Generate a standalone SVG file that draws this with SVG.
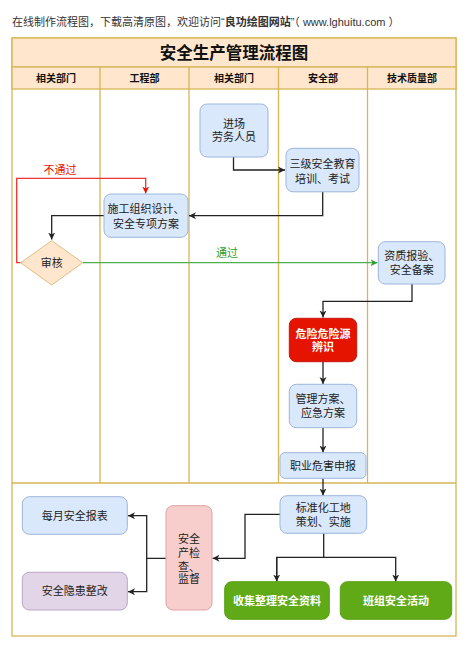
<svg xmlns="http://www.w3.org/2000/svg" width="468" height="649" viewBox="0 0 468 649">
<style>
text{font-family:"Liberation Sans","Noto Sans CJK SC",sans-serif;font-size:11px;fill:#222;text-anchor:middle}
.lane{fill:none;stroke:#d6b656;stroke-width:1.3}
.hdr{fill:#ffe6cc;stroke:#d6b656;stroke-width:1.3}
.hd{font-weight:bold;font-size:10px;fill:#111}
.blue{fill:#dae8fc;stroke:#9db5da;stroke-width:1}
.c{fill:none;stroke:#222;stroke-width:1.3}
.w{fill:#fff;font-weight:bold}
</style>
<defs>
<marker id="a" viewBox="0 0 8 8" refX="7" refY="4" markerWidth="8" markerHeight="8" markerUnits="userSpaceOnUse" orient="auto"><path d="M0,0.5 L7,4 L0,7.5 L2,4 Z" fill="#222"/></marker>
<marker id="ar" viewBox="0 0 8 8" refX="7" refY="4" markerWidth="8" markerHeight="8" markerUnits="userSpaceOnUse" orient="auto"><path d="M0,0.5 L7,4 L0,7.5 L2,4 Z" fill="#e51400"/></marker>
<marker id="ag" viewBox="0 0 8 8" refX="7" refY="4" markerWidth="8" markerHeight="8" markerUnits="userSpaceOnUse" orient="auto"><path d="M0,0.5 L7,4 L0,7.5 L2,4 Z" fill="#2e9e2e"/></marker>
</defs>
<rect width="468" height="649" fill="#fff"/>
<text x="12" y="26" style="text-anchor:start;font-size:11px;fill:#333">在线制作流程图，下载高清原图，欢迎访问“<tspan font-weight="bold">良功绘图网站</tspan>”（ www.lghuitu.com ）</text>

<g id="frame">
<rect class="lane" x="12" y="38" width="444" height="598"/>
<rect class="hdr" x="12" y="38" width="444" height="29"/>
<text x="234" y="59" style="font-size:16.5px;font-weight:bold;fill:#111">安全生产管理流程图</text>
<rect class="hdr" x="12" y="67" width="444" height="22"/>
<line class="lane" x1="100" y1="67" x2="100" y2="483"/>
<line class="lane" x1="189" y1="67" x2="189" y2="483"/>
<line class="lane" x1="278.5" y1="67" x2="278.5" y2="483"/>
<line class="lane" x1="367.5" y1="67" x2="367.5" y2="483"/>
<line class="lane" x1="12" y1="483" x2="456" y2="483"/>
<text class="hd" x="56" y="81.5">相关部门</text>
<text class="hd" x="144.5" y="81.5">工程部</text>
<text class="hd" x="234" y="81.5">相关部门</text>
<text class="hd" x="323" y="81.5">安全部</text>
<text class="hd" x="412" y="81.5">技术质量部</text>
</g>

<g id="connectors">
<path class="c" d="M233.5,157 V170 H285" marker-end="url(#a)"/>
<path class="c" d="M322.7,192 V215.7 H189" marker-end="url(#a)"/>
<path class="c" d="M104,215.7 H51.7 V239.5" marker-end="url(#a)"/>
<path d="M20.7,262.7 H16.7 V178.3 H145.7 V193.5" fill="none" stroke="#ee3333" stroke-width="1.3" marker-end="url(#ar)"/>
<text x="60" y="174" style="fill:#e51400;font-size:11px">不通过</text>
<path d="M82.7,262.7 H377.5" fill="none" stroke="#4cae4c" stroke-width="1.3" marker-end="url(#ag)"/>
<text x="227" y="257" style="fill:#2e9e2e;font-size:11px">通过</text>
<path class="c" d="M412,284 V301.3 H323 V317.5" marker-end="url(#a)"/>
<path class="c" d="M323,361.7 V384" marker-end="url(#a)"/>
<path class="c" d="M323,427.7 V452.5" marker-end="url(#a)"/>
<path class="c" d="M323,478.3 V495.5" marker-end="url(#a)"/>
<path class="c" d="M280,514.3 H245 V558.3 H212.5" marker-end="url(#a)"/>
<path class="c" d="M166,558.3 H146.7 V515.7 H128" marker-end="url(#a)"/>
<path class="c" d="M146.7,558.3 V591.7 H128" marker-end="url(#a)"/>
<path class="c" d="M323.7,533.3 V557.3"/>
<path class="c" d="M276.7,581.5 V557.3 H395.7 V581.5" marker-end="url(#a)"/>
<path class="c" d="M276.7,557.3 V581.5" marker-end="url(#a)"/>
</g>

<g id="n1"><rect class="blue" x="200" y="104" width="68" height="53" rx="7"/><text x="234" y="127.5">进场</text><text x="234" y="141">劳务人员</text></g>
<g id="n2"><rect class="blue" x="286" y="148.3" width="73" height="43.5" rx="7"/><text x="322.5" y="167.5">三级安全教育</text><text x="322.5" y="182.5">培训、考试</text></g>
<g id="n3"><rect class="blue" x="104" y="194" width="84" height="43.3" rx="7"/><text x="146" y="213">施工组织设计、</text><text x="146" y="227.5">安全专项方案</text></g>
<g id="n4"><path d="M51.7,240.7 L82.7,262.7 L51.7,285 L20.7,262.7 Z" fill="#ffe6cc" stroke="#e2bd84" stroke-width="1"/><text x="51.7" y="266.7">审核</text></g>
<g id="n5"><rect class="blue" x="378.3" y="241.7" width="66.7" height="42.3" rx="7"/><text x="411.7" y="259.7">资质报验、</text><text x="411.7" y="274">安全备案</text></g>
<g id="n6"><rect x="289.3" y="318.3" width="67.4" height="43.4" rx="7" fill="#e51400" stroke="#c41a0a" stroke-width="1"/><text class="w" x="323" y="337.5">危险危险源</text><text class="w" x="323" y="351">辨识</text></g>
<g id="n7"><rect class="blue" x="289.3" y="384.3" width="67.4" height="43.4" rx="7"/><text x="323" y="403">管理方案、</text><text x="323" y="417.3">应急方案</text></g>
<g id="n8"><rect class="blue" x="280" y="452.7" width="86" height="25.6" rx="5"/><text x="323" y="469.7">职业危害申报</text></g>
<g id="n9"><rect class="blue" x="280" y="495.7" width="86.7" height="37.6" rx="7"/><text x="323.3" y="511.7">标准化工地</text><text x="323.3" y="526.3">策划、实施</text></g>
<g id="n10"><rect x="166" y="505.7" width="46" height="104.3" rx="7" fill="#f8cecc" stroke="#dba5a3" stroke-width="1"/><text x="189" y="542.7">安全</text><text x="189" y="556.7">产检</text><text x="189" y="570.7">查、</text><text x="189" y="583">监督</text></g>
<g id="n11"><rect class="blue" x="22.3" y="496.7" width="105" height="37.6" rx="7"/><text x="74.8" y="519.5">每月安全报表</text></g>
<g id="n12"><rect x="22.3" y="572.3" width="105" height="37.7" rx="7" fill="#e1d5e7" stroke="#b9a5c6" stroke-width="1"/><text x="74.8" y="595">安全隐患整改</text></g>
<g id="n13"><rect x="224.7" y="581.7" width="104.6" height="37.6" rx="7" fill="#60a917" stroke="#58a015" stroke-width="1"/><text class="w" x="277" y="604.5">收集整理安全资料</text></g>
<g id="n14"><rect x="340.3" y="581.7" width="111.4" height="37.6" rx="7" fill="#60a917" stroke="#58a015" stroke-width="1"/><text class="w" x="396" y="604.5">班组安全活动</text></g>
</svg>
